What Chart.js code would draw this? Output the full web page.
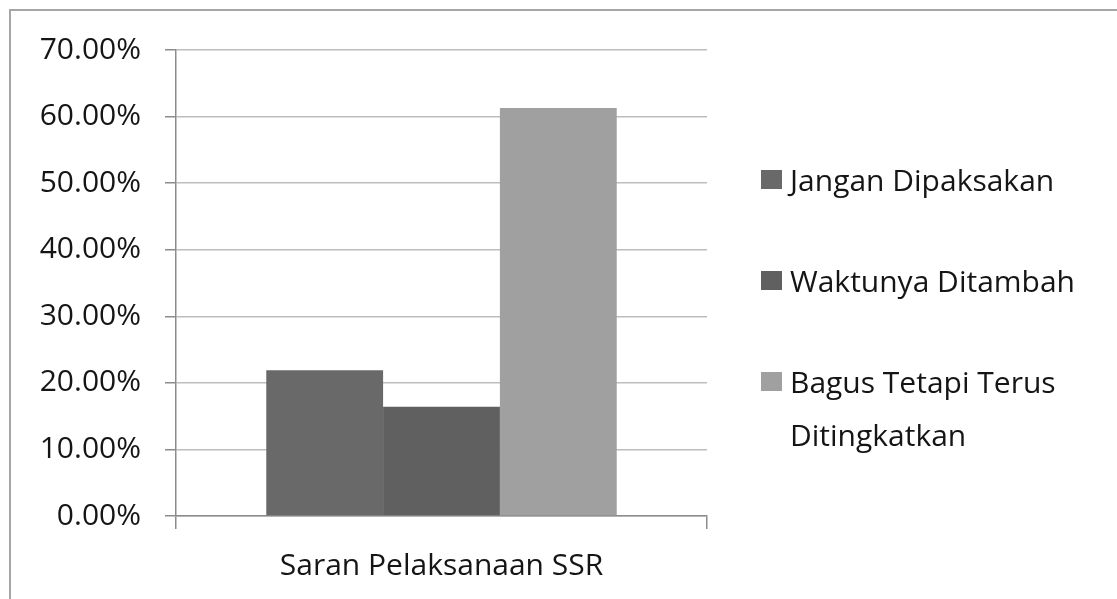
<!DOCTYPE html>
<html>
<head>
<meta charset="utf-8">
<script src="https://cdn.jsdelivr.net/npm/chart.js@4"></script>
<style>
  html, body { margin: 0; padding: 0; background: #fff; }
  #wrap { position: relative; width: 1117px; height: 599px; overflow: hidden; }
  #frame {
    position: absolute; left: 9px; top: 9px; right: -10px; bottom: -10px;
    border-top: 2px solid #a6a6a6; border-left: 2px solid #a6a6a6;
  }
  #chartBox { position: absolute; left: 0; top: 0; width: 1117px; height: 599px; }
  #legend {
    position: absolute; left: 761px; top: 153px; width: 350px;
    font-family: "Open Sans", sans-serif; font-size: 30px; color: #151515;
  }
  .item { display: flex; align-items: flex-start; line-height: 53px; margin-bottom: 48px; }
  .swatch { flex: none; width: 21px; height: 19px; margin-top: 17px; margin-right: 8px; }
  .label { width: 300px; }
</style>
</head>
<body>
<div id="wrap">
  <div id="frame"></div>
  <div id="chartBox"><canvas id="ssrChart"></canvas></div>
  <div id="legend"></div>
</div>
<script>
/* ===================== DATA ===================== */
const categories = ["Saran Pelaksanaan SSR"];
const seriesNames = ["Jangan Dipaksakan", "Waktunya Ditambah", "Bagus Tetapi Terus Ditingkatkan"];
const seriesValues = [21.9, 16.4, 61.3];
const seriesColors = ["#696969", "#606060", "#a0a0a0"];
const yTicks = [0, 10, 20, 30, 40, 50, 60, 70];

const FONT = "'Open Sans', sans-serif";

/* ========== Build datasets ========== */
const datasets = seriesNames.map((name, i) => ({
  label: name,
  data: [seriesValues[i]],
  backgroundColor: seriesColors[i],
  borderWidth: 0,
  barPercentage: 1,
  categoryPercentage: 0.66
}));

/* ========== HTML legend ========== */
const legendBox = document.getElementById("legend");
seriesNames.forEach((name, i) => {
  legendBox.innerHTML += `<div class="item"><span class="swatch" style="background:${seriesColors[i]}"></span><span class="label">${name}</span></div>`;
});

/* ========== Chart ========== */
const ctx = document.getElementById("ssrChart").getContext("2d");
new Chart(ctx, {
  type: "bar",
  data: { labels: categories, datasets },
  options: {
    responsive: true,
    maintainAspectRatio: false,
    animation: false,
    layout: { padding: { left: 10, top: 50, right: 410, bottom: 0 } },
    plugins: { legend: { display: false }, tooltip: { enabled: false } },
    scales: {
      x: {
        grid: { offset: true, drawOnChartArea: false, tickLength: 13, color: "#8c8c8c", lineWidth: 1.5 },
        border: { color: "#8c8c8c", width: 1.5 },
        ticks: { padding: 19, color: "#151515", font: { family: FONT, size: 30 } },
        afterFit: s => { s.height = 83; }
      },
      y: {
        min: yTicks[0],
        max: yTicks[yTicks.length - 1],
        afterBuildTicks: s => { s.ticks = yTicks.map(v => ({ value: v })); },
        grid: { color: "#bdbdbd", lineWidth: 1.5, tickLength: 11, tickColor: "#8c8c8c" },
        border: { color: "#8c8c8c", width: 1.5 },
        ticks: {
          padding: 24,
          color: "#151515",
          font: { family: FONT, size: 30 },
          callback: v => v.toFixed(2) + "%"
        },
        afterFit: s => { s.width = 166; }
      }
    }
  }
});
</script>
</body>
</html>
